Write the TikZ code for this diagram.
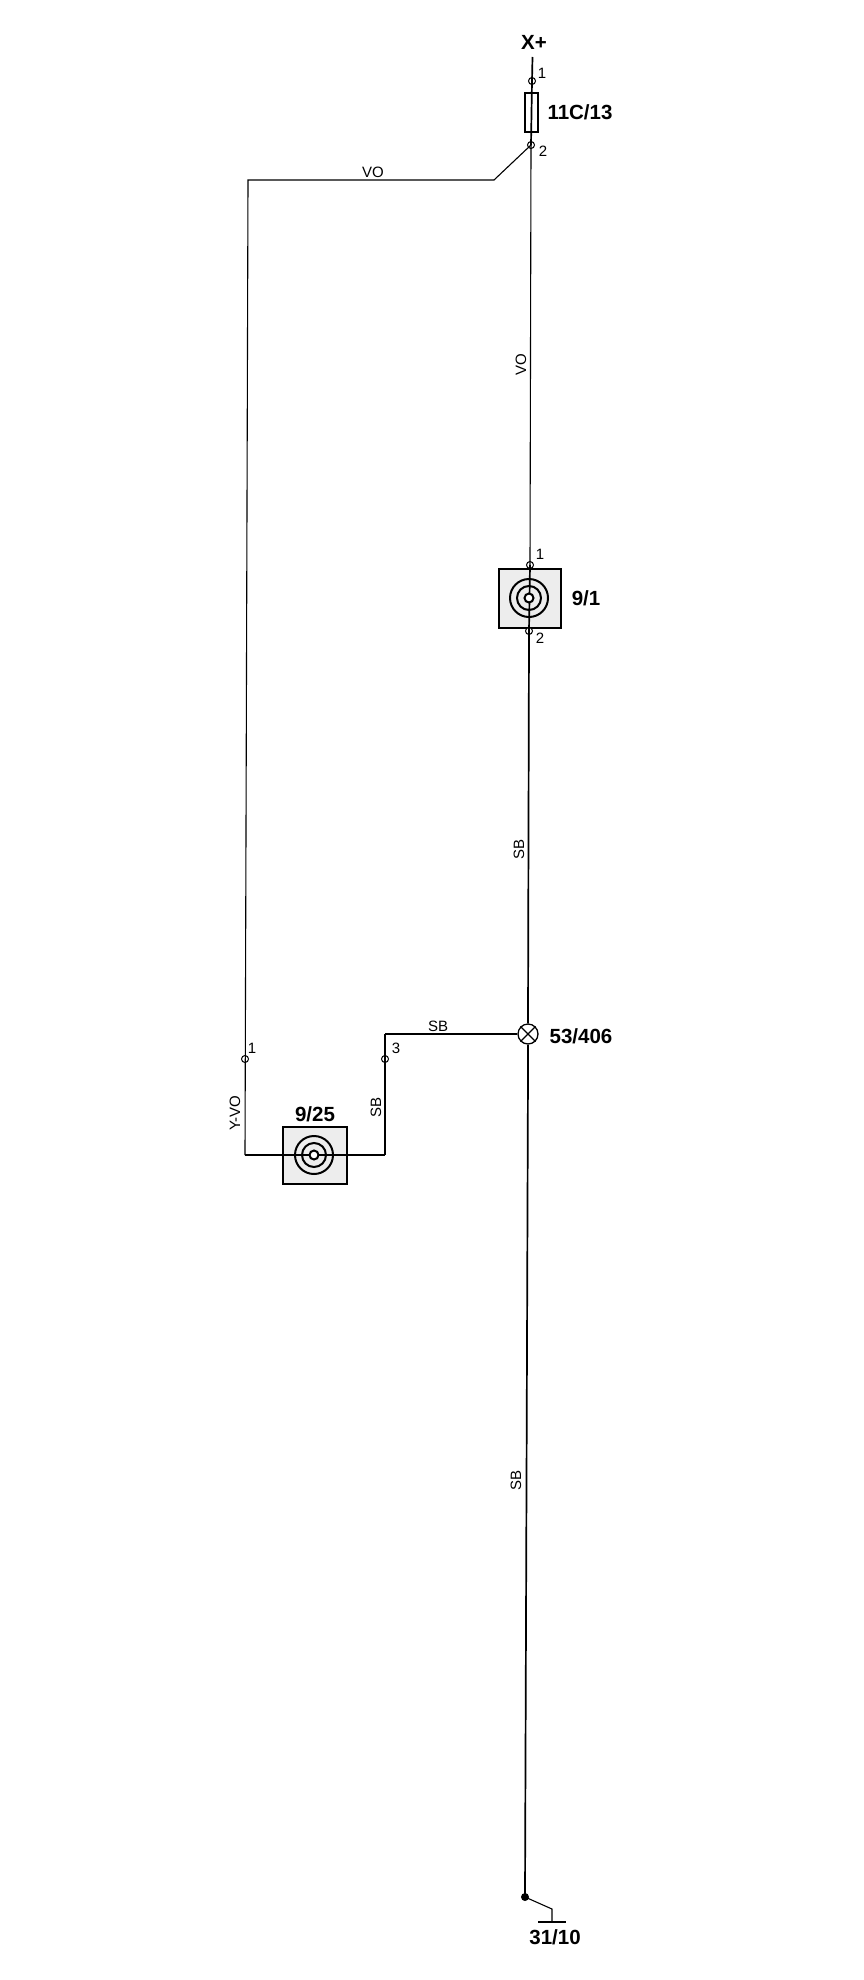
\documentclass[tikz,border=0pt]{standalone}
\usepackage{fontspec}
\setmainfont{Liberation Sans}
\usetikzlibrary{patterns}
\tikzset{
  wire/.style={draw=black,line width=1.1pt,line join=miter},
  thick wire/.style={draw=black,line width=1.7pt},
  pin/.style={circle,draw=black,line width=1pt,fill=white,inner sep=0pt,minimum size=7pt},
  pinlabel/.style={font=\fontsize{15}{15}\selectfont,inner sep=0pt},
  wirelabel/.style={font=\fontsize{15}{15}\selectfont,inner sep=0pt},
  complabel/.style={font=\bfseries\fontsize{20.5}{20.5}\selectfont,inner sep=0pt},
  stipple/.style={draw=black,line width=1.9pt,fill=black!7},
  ring/.style={circle,draw=black,line width=2pt,inner sep=0pt},
}
\begin{document}
\begin{tikzpicture}[x=1pt,y=-1pt]
\useasboundingbox[fill=white] (0,0) rectangle (864,1980);
% coordinates
\coordinate (top) at (532.5,57);
\coordinate (bend1) at (494,180);
\coordinate (bend2) at (248,180);
\coordinate (cornerL) at (245,1155);
\coordinate (cornerR) at (385,1155);
\coordinate (bendS) at (385,1034);
\coordinate (g1) at (552,1909);
\coordinate (g2) at (552,1922);
\coordinate (gl) at (538,1922);
\coordinate (gr) at (566,1922);
% components (behind wires)
\node[draw=black,line width=1.6pt,fill=white,minimum width=13pt,minimum height=39pt,inner sep=0pt] (fuse) at (531.5,112.5) {};
\node[stipple,minimum width=62pt,minimum height=59pt,inner sep=0pt] (b91) at (530,598.5) {};
\node[stipple,minimum width=64pt,minimum height=57pt,inner sep=0pt] (b925) at (315,1155.5) {};
\node[pin] (p1) at (532,81) {};
\node[pin] (p2) at (531,145) {};
\node[pin] (p3) at (530,565) {};
\node[pin] (p4) at (529,631) {};
\node[pin] (p5) at (245,1059) {};
\node[pin] (p6) at (385,1059) {};
\node[circle,draw=black,line width=1.3pt,fill=white,minimum size=20pt,inner sep=0pt] (lamp) at (528,1034) {};
\coordinate (c91) at (529,598);
\coordinate (c925) at (314,1155);
\node[circle,fill=black,minimum size=8pt,inner sep=0pt] (gdot) at (525,1897) {};
% wires
\draw[thick wire] (top) -- (p1.center) -- (p2.center);
\draw[wire] (p2.center) -- (p3.center);
\draw[wire] (p2.center) -- (bend1) -- (bend2) -- (cornerL);
\draw[thick wire] (p3.center) -- (p4.center);
\draw[thick wire] (p4.center) -- (lamp.north);
\draw[wire] (lamp.south) -- (528,1070);
\draw[thick wire] (528,1070) -- (gdot.center);
\draw[wire] (bendS) -- (lamp.west);
\draw[thick wire] (bendS) -- (cornerR);
\draw[thick wire] (cornerL) -- (cornerR);
\draw[wire] (gdot.center) -- (g1) -- (g2);
\draw[wire] (gl) -- (gr);
% lamp cross
\draw[wire] (lamp.45) -- (lamp.225) (lamp.135) -- (lamp.315);
% rings
\node[ring,minimum size=38pt] (r1) at (c91) {};
\node[ring,minimum size=24pt] (r2) at (c91) {};
\node[ring,minimum size=9pt,fill=white] (r3) at (c91) {};
\node[ring,minimum size=38pt] (r4) at (c925) {};
\node[ring,minimum size=24pt] (r5) at (c925) {};
\node[ring,minimum size=9pt,fill=white] (r6) at (c925) {};
% labels
\node[complabel] (lx) at (534,42) {X+};
\node[complabel] (l1) at (580,112) {11C/13};
\node[complabel] (l2) at (586,598) {9/1};
\node[complabel] (l3) at (315,1114) {9/25};
\node[complabel] (l4) at (581,1036) {53/406};
\node[complabel] (l5) at (555,1937) {31/10};
\node[pinlabel] (n1) at (542,73) {1};
\node[pinlabel] (n2) at (543,151) {2};
\node[pinlabel] (n3) at (540,554) {1};
\node[pinlabel] (n4) at (540,638) {2};
\node[pinlabel] (n5) at (252,1048) {1};
\node[pinlabel] (n6) at (396,1048) {3};
\node[wirelabel] (w1) at (373,172) {VO};
\node[wirelabel,rotate=90] (w2) at (521,365) {VO};
\node[wirelabel,rotate=90] (w3) at (519,849) {SB};
\node[wirelabel] (w4) at (438,1026) {SB};
\node[wirelabel,rotate=90] (w5) at (376,1107) {SB};
\node[wirelabel,rotate=90] (w6) at (235,1113) {Y-VO};
\node[wirelabel,rotate=90] (w7) at (516,1480) {SB};
\end{tikzpicture}
\end{document}
